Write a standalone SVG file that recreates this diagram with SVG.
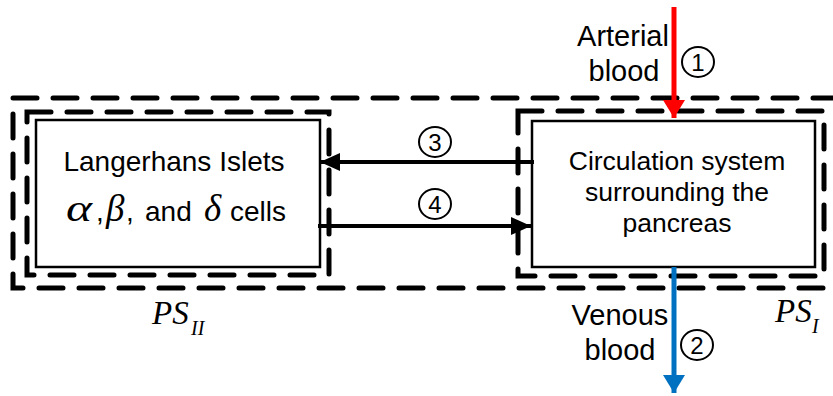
<svg xmlns="http://www.w3.org/2000/svg" width="833" height="396" viewBox="0 0 833 396">
  <style>
    .dash { fill: none; stroke: #000; stroke-width: 5; stroke-dasharray: 24 16; stroke-linecap: round; }
    .box { fill: #fff; stroke: #000; stroke-width: 2.5; }
    .lbl { font-family: "Liberation Sans", Arial, sans-serif; fill: #000; }
    .blood { font-size: 29px; text-anchor: middle; }
    .math { font-family: "Liberation Serif", "DejaVu Serif", serif; font-style: italic; fill: #000; }
    .num { font-family: "Liberation Sans", Arial, sans-serif; font-size: 24px; text-anchor: middle; fill: #000; }
    .circ { fill: none; stroke: #000; stroke-width: 2; }
    .conn { stroke: #000; stroke-width: 4; fill: none; }
  </style>
  <defs>
    <marker id="ah-black" viewBox="0 0 20 18" refX="20" refY="9" markerWidth="20" markerHeight="18" markerUnits="userSpaceOnUse" orient="auto">
      <path d="M0,0 L20,9 L0,18 Z" fill="#000"/>
    </marker>
    <marker id="ah-red" viewBox="0 0 18 22" refX="18" refY="11" markerWidth="18" markerHeight="22" markerUnits="userSpaceOnUse" orient="auto">
      <path d="M0,0 L18,11 L0,22 Z" fill="#FF0000"/>
    </marker>
    <marker id="ah-blue" viewBox="0 0 18 22" refX="18" refY="11" markerWidth="18" markerHeight="22" markerUnits="userSpaceOnUse" orient="auto">
      <path d="M0,0 L18,11 L0,22 Z" fill="#0070C0"/>
    </marker>
  </defs>

  <g id="boundary-ps">
    <rect class="dash" x="13" y="98" width="830" height="190"/>
  </g>

  <g id="node-islets">
    <rect class="dash" x="27" y="112" width="302" height="163"/>
    <rect class="box" x="36" y="120" width="284" height="147"/>
    <text class="lbl" x="174" y="171" font-size="28" text-anchor="middle">Langerhans Islets</text>
    <text class="lbl" y="221" font-size="28"><tspan class="math" x="66" font-size="37" textLength="26" lengthAdjust="spacingAndGlyphs">α</tspan><tspan x="96">,</tspan><tspan class="math" x="106" font-size="37">β</tspan><tspan x="126">,</tspan><tspan x="145">and</tspan><tspan class="math" x="204" font-size="37">δ</tspan><tspan x="230">cells</tspan></text>
  </g>

  <g id="node-circulation">
    <rect class="dash" x="518" y="111" width="306" height="165"/>
    <rect class="box" x="532" y="121" width="283" height="146"/>
    <text class="lbl" font-size="26.5" text-anchor="middle"><tspan x="677" y="170">Circulation system</tspan><tspan x="677" y="201">surrounding the</tspan><tspan x="677" y="232">pancreas</tspan></text>
  </g>

  <g id="labels">
    <text class="lbl blood" x="623" y="46">Arterial</text>
    <text class="lbl blood" x="624" y="81">blood</text>
    <text class="lbl blood" x="620" y="325">Venous</text>
    <text class="lbl blood" x="620" y="360">blood</text>
    <text class="math" x="152" y="324" font-size="33">PS<tspan x="191" y="335" font-size="20">II</tspan></text>
    <text class="math" x="775" y="322" font-size="33">PS<tspan x="812" y="333" font-size="20">I</tspan></text>
  </g>

  <g id="connectors">
    <line x1="674" y1="7" x2="674" y2="118" stroke="#FF0000" stroke-width="5" marker-end="url(#ah-red)"/>
    <line x1="674" y1="267" x2="674" y2="393" stroke="#0070C0" stroke-width="5" marker-end="url(#ah-blue)"/>
    <line class="conn" x1="534" y1="162" x2="320" y2="162" marker-end="url(#ah-black)"/>
    <line class="conn" x1="318" y1="226" x2="531" y2="226" marker-end="url(#ah-black)"/>
    <ellipse class="circ" cx="698" cy="62" rx="16" ry="15"/>
    <text class="num" x="698" y="70.5">1</text>
    <ellipse class="circ" cx="697" cy="345" rx="16" ry="15"/>
    <text class="num" x="697" y="353.5">2</text>
    <ellipse class="circ" cx="435" cy="142" rx="16" ry="15"/>
    <text class="num" x="435" y="150.5">3</text>
    <ellipse class="circ" cx="435" cy="204" rx="16" ry="15"/>
    <text class="num" x="435" y="212.5">4</text>
  </g>
</svg>
